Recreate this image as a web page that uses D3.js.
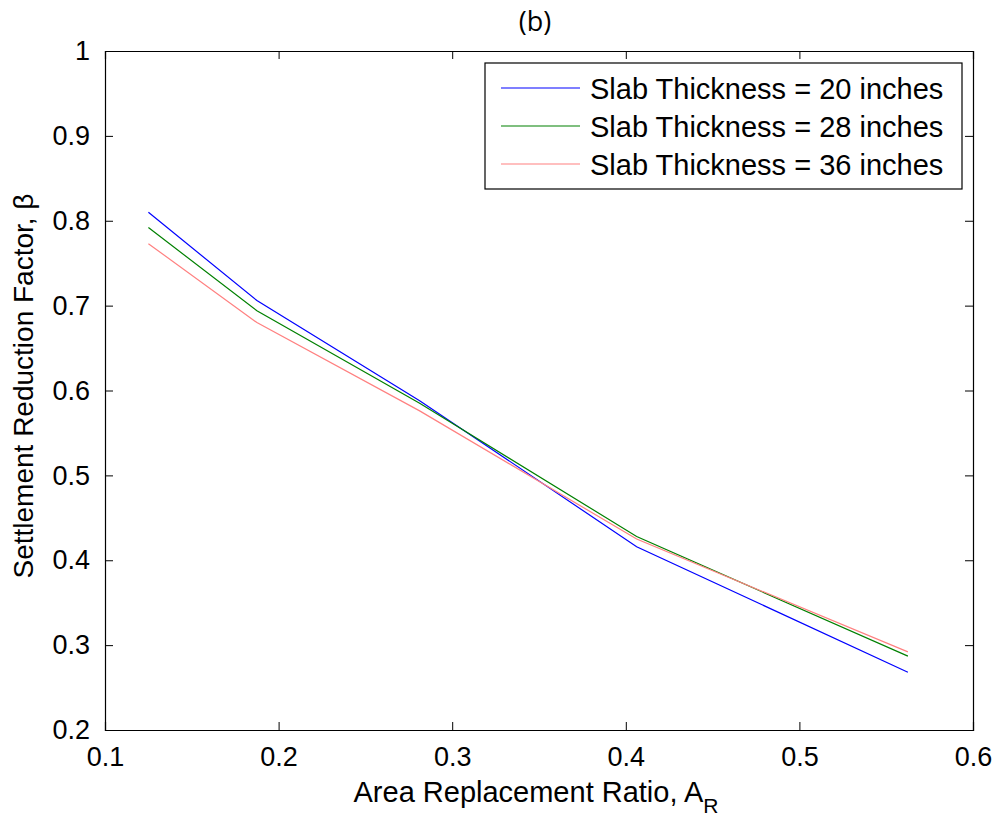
<!DOCTYPE html>
<html><head><meta charset="utf-8">
<script src="https://cdn.jsdelivr.net/npm/d3@7"></script>
<style>body{margin:0;background:#fff}svg{display:block}text{font-family:"Liberation Sans",Arial,sans-serif;fill:#000}</style>
</head><body><svg id="c" width="1001" height="824"></svg>
<script>
const xValues = [0.125, 0.1875, 0.28125, 0.40625, 0.5625];
const slab20 = [0.810, 0.706, 0.588, 0.416, 0.268];
const slab28 = [0.792, 0.694, 0.585, 0.428, 0.287];
const slab36 = [0.773, 0.680, 0.576, 0.425, 0.292];
const seriesNames = ["Slab Thickness = 20 inches", "Slab Thickness = 28 inches", "Slab Thickness = 36 inches"];
const seriesColors = ["#0000ff", "#008000", "#ff8080"];
const xTicks = [0.1, 0.2, 0.3, 0.4, 0.5, 0.6];
const yTicks = [0.2, 0.3, 0.4, 0.5, 0.6, 0.7, 0.8, 0.9, 1];

const svg = d3.select("#c");
const L = 105, R = 973, T = 51, B = 730;
const x = d3.scaleLinear().domain([0.1, 0.6]).range([L, R]);
const y = d3.scaleLinear().domain([0.2, 1]).range([B, T]);
const fs = 27, fl = 29;

const g = svg.append("g");
const fmt = d => d3.format("")(d);
g.append("g").attr("transform", `translate(0,${B})`)
  .call(d3.axisBottom(x).tickValues(xTicks).tickSize(-8).tickPadding(17).tickFormat(fmt));
g.append("g").attr("transform", `translate(0,${T})`)
  .call(d3.axisTop(x).tickValues(xTicks).tickSize(-8).tickFormat(""));
g.append("g").attr("transform", `translate(${L},0)`)
  .call(d3.axisLeft(y).tickValues(yTicks).tickSize(-8).tickPadding(15).tickFormat(fmt));
g.append("g").attr("transform", `translate(${R},0)`)
  .call(d3.axisRight(y).tickValues(yTicks).tickSize(-8).tickFormat(""));
g.selectAll(".domain").attr("stroke", "#000").attr("stroke-width", 1.2);
g.selectAll(".tick line").attr("stroke", "#000");
g.selectAll(".tick text").style("font-size", fs + "px").attr("fill", "#000")
  .style("font-family", '"Liberation Sans",Arial,sans-serif');

const data = [slab20, slab28, slab36];
const line = d3.line().x((d, i) => x(xValues[i])).y(d => y(d));
data.forEach((s, k) => {
  svg.append("path").datum(s).attr("d", line).attr("fill", "none")
    .attr("stroke", seriesColors[k]).attr("stroke-width", 1.2);
});

svg.append("text").attr("x", 535).attr("y", 31).attr("text-anchor", "middle")
  .style("font-family", '"Open Sans",sans-serif').style("font-size", "27px").text("(b)");

const xl = svg.append("text").attr("x", 536).attr("y", 802).attr("text-anchor", "middle")
  .style("font-size", fl + "px");
xl.append("tspan").text("Area Replacement Ratio, A");
xl.append("tspan").attr("dy", 11).style("font-size", "21px").text("R");

svg.append("text").attr("transform", `translate(33,386) rotate(-90)`)
  .attr("text-anchor", "middle").style("font-size", "28px")
  .text("Settlement Reduction Factor, β");

const lg = svg.append("g");
lg.append("rect").attr("x", 485).attr("y", 63).attr("width", 477).attr("height", 126)
  .attr("fill", "#fff").attr("stroke", "#000").attr("stroke-width", 1.2);
seriesNames.forEach((n, k) => {
  const yy = 88 + k * 38;
  lg.append("line").attr("x1", 501).attr("x2", 580).attr("y1", yy).attr("y2", yy)
    .attr("stroke", seriesColors[k]).attr("stroke-width", 1.2);
  lg.append("text").attr("x", 590).attr("y", yy + 11).style("font-size", fl + "px").text(n);
});
</script></body></html>
